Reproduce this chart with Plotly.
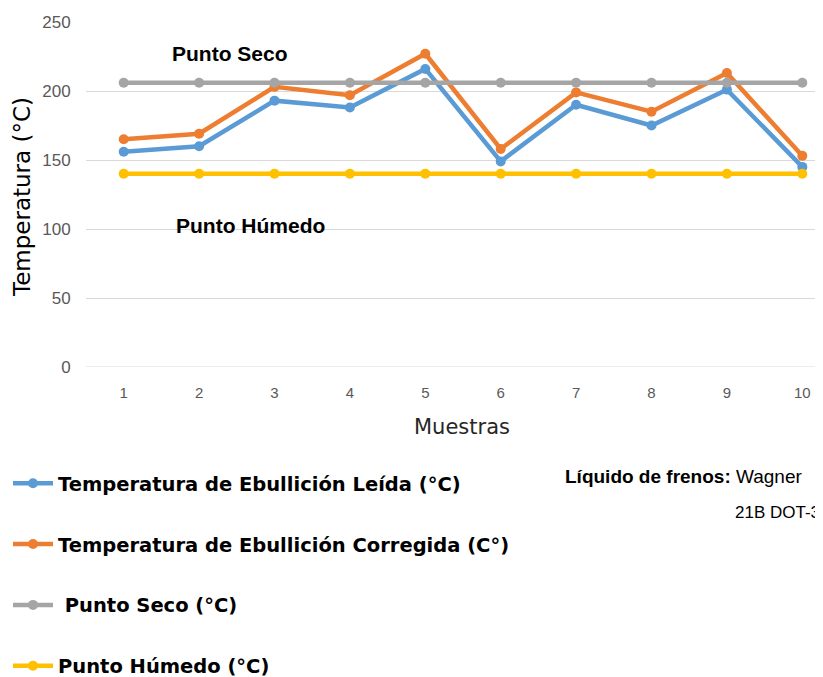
import plotly.graph_objects as go

muestras = [1, 2, 3, 4, 5, 6, 7, 8, 9, 10]
leida = [156, 160, 193, 188, 216, 149, 190, 175, 201, 145]
corregida = [165, 169, 203, 197, 227, 158, 199, 185, 213, 153]
punto_seco = [206] * 10
punto_humedo = [140] * 10

series_names = [
    "Temperatura de Ebullición Leída (°C)",
    "Temperatura de Ebullición Corregida (C°)",
    " Punto Seco (°C)",
    "Punto Húmedo (°C)",
]
series_values = [leida, corregida, punto_seco, punto_humedo]
colors = ["#5B9BD5", "#ED7D31", "#A5A5A5", "#FFC000"]

# page offset (body margin) in the screenshot
OFF = 8
W, H = 823 - OFF, 677 - OFF
# screenshot coordinates of the plot area
PX0, PX1, PY0, PY1 = 86, 823, 22, 367
L, R, T, B = PX0 - OFF, 0, PY0 - OFF, H - (PY1 - OFF)
spacing = 75.4
x_right = 0.5 + (PX1 - PX0) / spacing


def px(x):
    return (x - PX0) / (PX1 - PX0)


def py(y):
    return (PY1 - y) / (PY1 - PY0)


fig = go.Figure()
for i, (name, vals, col) in enumerate(zip(series_names, series_values, colors)):
    fig.add_trace(go.Scatter(
        x=muestras, y=vals, name=name, mode="lines+markers",
        line=dict(color=col, width=4.5),
        marker=dict(color=col, size=10),
        legendgroup=f"g{i}",
        cliponaxis=False,
    ))

label_font = "Liberation Sans Narrow, Liberation Sans, Arial, sans-serif"

fig.update_layout(
    width=W, height=H,
    margin=dict(l=L, r=R, t=T, b=B, autoexpand=False),
    paper_bgcolor="white", plot_bgcolor="white",
    showlegend=True,
    legend=dict(
        xref="container", yref="container",
        x=0.0, y=1 - (464 - OFF) / H, xanchor="left", yanchor="top",
        font=dict(family="DejaVu Sans, sans-serif", size=19.5, color="#000000", weight="bold"),
        tracegroupgap=32.5,
        bgcolor="rgba(0,0,0,0)",
        itemwidth=40,
    ),
    xaxis=dict(
        range=[0.5, x_right], tickmode="array", tickvals=muestras,
        ticktext=[str(m) for m in muestras],
        showgrid=False, zeroline=False, showline=False,
        ticks="outside", ticklen=12, tickcolor="rgba(0,0,0,0)",
        tickfont=dict(family=label_font, size=15, color="#595959"),
    ),
    yaxis=dict(
        range=[0, 250], tickvals=[0, 50, 100, 150, 200, 250],
        showgrid=True, gridcolor="#D9D9D9", gridwidth=1,
        zeroline=False, showline=False,
        ticks="outside", ticklen=11, tickcolor="rgba(0,0,0,0)",
        tickfont=dict(family=label_font, size=17, color="#595959"),
    ),
)

fig.add_shape(type="line", xref="paper", yref="y", x0=0, x1=1, y0=0, y1=0,
              line=dict(color="#D9D9D9", width=1), layer="below")

annots = [
    dict(text="Temperatura (°C)", x=22, y=197, textangle=-90,
         font=dict(family="DejaVu Sans, sans-serif", size=23, color="#000000")),
    dict(text="Muestras", x=462, y=427,
         font=dict(family="DejaVu Sans, sans-serif", size=21, color="#262626")),
    dict(text="<b>Punto Seco</b>", x=230, y=53,
         font=dict(family=label_font, size=21, color="#000000")),
    dict(text="<b>Punto Húmedo</b>", x=250, y=225,
         font=dict(family=label_font, size=21, color="#000000")),
]
for a in annots:
    fig.add_annotation(xref="paper", yref="paper", showarrow=False,
                       **{k: v for k, v in a.items() if k not in ("x", "y")},
                       x=px(a["x"]), y=py(a["y"]),
                       xanchor="center", yanchor="middle")

fig.add_annotation(xref="paper", yref="paper", showarrow=False,
                   text="<b>Líquido de frenos:</b> Wagner",
                   x=px(563), y=py(476),
                   xanchor="left", yanchor="middle",
                   font=dict(family=label_font, size=19, color="#000000"))
fig.add_annotation(xref="paper", yref="paper", showarrow=False,
                   text="21B DOT-3",
                   x=px(733), y=py(512),
                   xanchor="left", yanchor="middle",
                   font=dict(family=label_font, size=17, color="#000000"))

fig.write_html("out.html")
